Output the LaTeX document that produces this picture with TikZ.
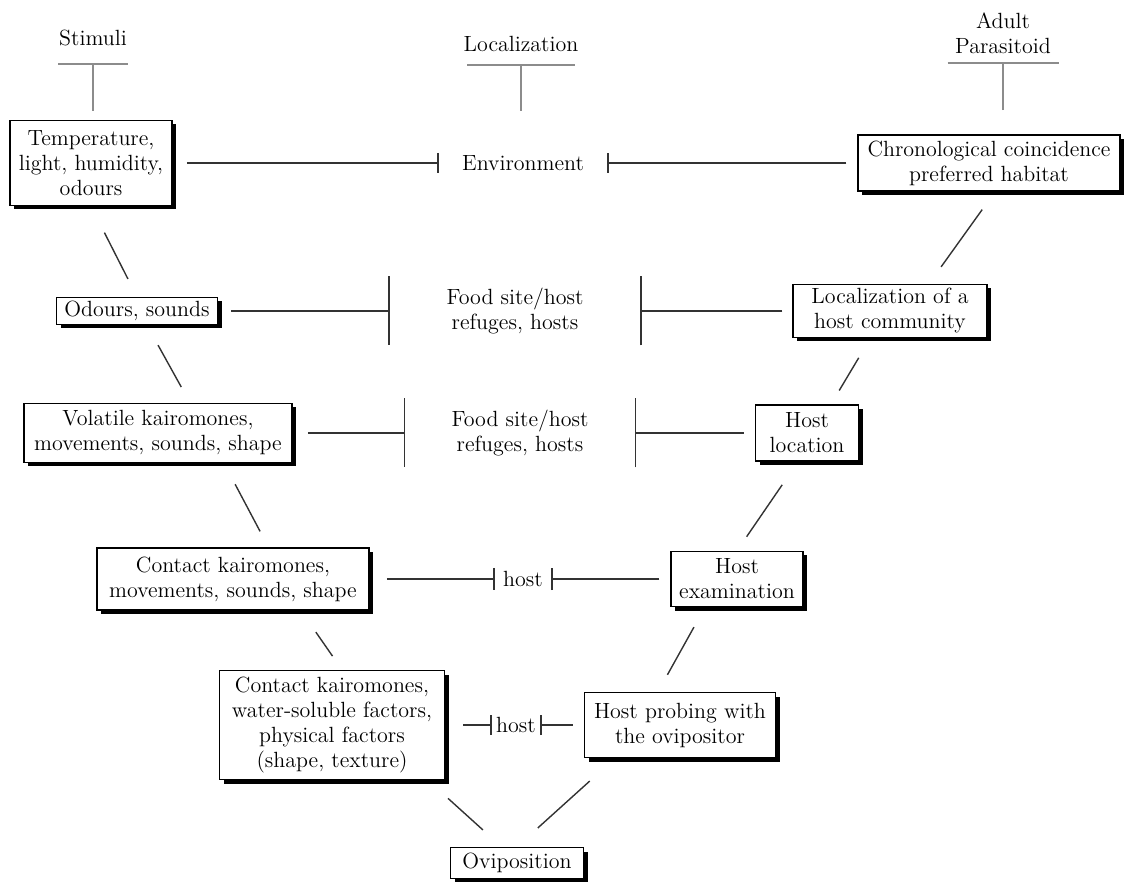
\documentclass[tikz,border=0pt]{standalone}
\usepackage{tikz}
\usetikzlibrary{positioning,shapes,arrows.meta,calc,shadows}
\tikzset{
  box/.style={draw, fill=white, line width=0.75pt, align=center, inner xsep=3pt, inner ysep=1.5pt,
    drop shadow={shadow xshift=2pt, shadow yshift=-2pt, fill=black, opacity=1}},
  lbl/.style={inner sep=0pt, align=center},
  toplbl/.style={anchor=south, align=center, inner xsep=0pt, inner ysep=6pt},
  link/.style={draw=black!80, line width=0.7pt},
  tee/.style={link, -{Bar[width=#1]}},
  tbar/.style={draw=black!45, line width=0.9pt, -{Bar[width=#1]}},
}

\begin{document}
\begin{tikzpicture}[x=0.5pt, y=-0.5pt, font=\fontsize{11}{12.5}\selectfont]
\useasboundingbox (0,0) rectangle (1126,882);

% --- column headings ---
\node (stim)  [toplbl, inner ysep=8.5pt] at (93,63)   {Stimuli};
\node (loc)   [toplbl]                   at (521,64)  {Localization};
\node (adult) [toplbl, inner ysep=4pt]   at (1003,62) {Adult\\Parasitoid};

% --- stimuli (left column) ---
\node (temp)     [box, minimum width=81pt,    minimum height=42.5pt] at (91,163)  {Temperature,\\light, humidity,\\odours};
\node (odours)   [box, minimum width=80.5pt,  minimum height=13.5pt] at (137,311) {Odours, sounds};
\node (volatile) [box, minimum width=134pt,   minimum height=29.5pt] at (158,433) {Volatile kairomones,\\movements, sounds, shape};
\node (contact)  [box, minimum width=136pt,   minimum height=31pt]   at (233,579) {Contact kairomones,\\movements, sounds, shape};
\node (soluble)  [box, minimum width=112.5pt, minimum height=54.5pt] at (332,725) {Contact kairomones,\\water-soluble factors,\\physical factors\\(shape, texture)};
\node (ovi)      [box, minimum width=66.5pt,  minimum height=15.5pt] at (517,863) {Oviposition};

% --- adult parasitoid (right column) ---
\node (chron)     [box, minimum width=131pt,  minimum height=28pt]   at (989,163) {Chronological coincidence\\preferred habitat};
\node (community) [box, minimum width=97pt,   minimum height=26.5pt] at (890,311) {Localization of a\\host community};
\node (hostloc)   [box, minimum width=51.5pt, minimum height=28pt]   at (807,433) {Host\\location};
\node (exam)      [box, minimum width=66pt,   minimum height=27.5pt] at (737,579) {Host\\examination};
\node (probe)     [box, minimum width=95.5pt, minimum height=32.5pt] at (680,725) {Host probing with\\the ovipositor};

% --- localization (middle column) ---
\node (env)   [lbl, minimum width=84pt]    at (523,163) {Environment};
\node (food1) [lbl, minimum width=125pt]   at (515,311) {Food site/host\\refuges, hosts};
\node (food2) [lbl, minimum width=114.5pt] at (520,433) {Food site/host\\refuges, hosts};
\node (host1) [lbl, minimum width=28pt]    at (523,579) {host};
\node (host2) [lbl, minimum width=24pt]    at (516,725) {host};

% --- heading bars ---
\draw[tbar=35pt,   shorten <=4.5pt] ([xshift=1pt]temp.north) -- (stim.south);
\draw[tbar=54pt,   shorten <=22pt]  ([xshift=-1pt]env.north) -- (loc.south);
\draw[tbar=55.5pt, shorten <=12pt]  ([xshift=7pt]chron.north) -- (adult.south);

% --- links into the middle column ---
\draw[tee=10pt,   shorten <=7pt]   (temp) -- (env);
\draw[tee=10pt,   shorten <=5.5pt] (chron) -- (env);
\draw[tee=34.5pt, shorten <=6.5pt] (odours) -- (food1);
\draw[tee=34.5pt, shorten <=5pt]   (community) -- (food1);
\draw[tee=34.5pt, shorten <=7.5pt] (volatile) -- (food2);
\draw[tee=34.5pt, shorten <=5.5pt] (hostloc) -- (food2);
\draw[tee=11pt,   shorten <=8.5pt] (contact) -- (host1);
\draw[tee=11pt,   shorten <=5.5pt] (exam) -- (host1);
\draw[tee=10pt,   shorten <=9pt]   (soluble) -- (host2);
\draw[tee=10pt,   shorten <=5.5pt] (probe) -- (host2);

% --- left chain down to oviposition ---
\draw[link, shorten <=14.8pt, shorten >=10pt]  (temp.south) -- (odours.north);
\draw[link, shorten <=11.4pt, shorten >=9pt]   ([xshift=5pt]odours.south) -- ([xshift=16pt]volatile.north);
\draw[link, shorten <=11.9pt, shorten >=9pt]   ([xshift=33pt]volatile.south) -- ([xshift=17.75pt]contact.north);
\draw[link, shorten <=13pt,   shorten >=8.3pt] ([xshift=34pt]contact.south) -- ([xshift=5pt]soluble.north);
\draw[link, shorten <=13.5pt, shorten >=12.5pt] ([xshift=48pt]soluble.south) -- ([xshift=-7.75pt]ovi.north);

% --- right chain down to oviposition ---
\draw[link, shorten <=11pt,   shorten >=10.4pt] ([xshift=3pt]chron.south) -- ([xshift=19.5pt]community.north);
\draw[link, shorten <=11.4pt, shorten >=8pt]   ([xshift=-9.8pt]community.south) -- ([xshift=12pt]hostloc.north);
\draw[link, shorten <=14pt,   shorten >=8.5pt] ([xshift=-4.5pt]hostloc.south) -- (exam.north);
\draw[link, shorten <=11.4pt, shorten >=9.7pt] ([xshift=-16pt]exam.south) -- ([xshift=-11pt]probe.north);
\draw[link, shorten <=17pt,   shorten >=14pt]  ([xshift=-32.5pt]probe.south) -- (ovi.north);

\end{tikzpicture}
\end{document}
